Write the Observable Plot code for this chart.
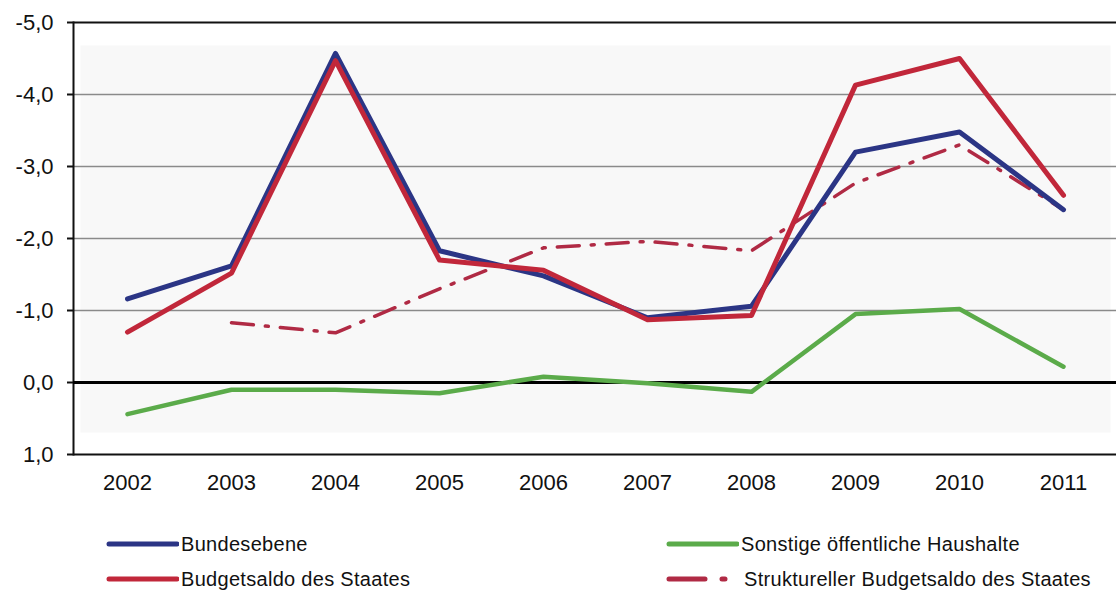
<!DOCTYPE html>
<html>
<head>
<meta charset="utf-8">
<script src="https://cdn.jsdelivr.net/npm/d3@7"></script>
<script src="https://cdn.jsdelivr.net/npm/@observablehq/plot@0.6"></script>
<style>
  html, body { margin: 0; padding: 0; background: #fff; }
  body { width: 1116px; height: 592px; overflow: hidden; font-family: "Liberation Sans", Arial, sans-serif; }
  #legend { display: grid; grid-template-columns: 560px 448px; margin-left: 106px; row-gap: 11px; margin-top: 28px; font-size: 20px; letter-spacing: 0.3px; color: #111; }
  .item { display: flex; align-items: center; height: 24px; white-space: nowrap; }
  .item svg { margin-right: 2px; flex: none; }
</style>
</head>
<body>
<div id="chart"></div>
<div id="legend"></div>
<script>
const years = [2002, 2003, 2004, 2005, 2006, 2007, 2008, 2009, 2010, 2011];
const bundesebene = [-1.16, -1.62, -4.57, -1.83, -1.48, -0.9, -1.06, -3.2, -3.48, -2.4];
const budgetsaldo = [-0.7, -1.52, -4.47, -1.7, -1.56, -0.87, -0.93, -4.13, -4.5, -2.6];
const strukturell = [null, -0.83, -0.69, -1.3, -1.87, -1.96, -1.83, -2.77, -3.3, -2.4];
const sonstige = [0.44, 0.1, 0.1, 0.15, -0.08, 0.01, 0.13, -0.95, -1.02, -0.22];
const yTicks = [-5, -4, -3, -2, -1, 0, 1];
const gridTicks = [-4, -3, -2, -1];

const seriesNames = ["Bundesebene", "Budgetsaldo des Staates", "Sonstige öffentliche Haushalte", "Struktureller Budgetsaldo des Staates"];
const colors = { blue: "#2b3585", red: "#c1273a", green: "#5bab4a", dashred: "#b02a44" };

const rows = (vals) => years.map((y, i) => ({ year: y, value: vals[i] })).filter(d => d.value !== null);
const fmt = d => d.toFixed(1).replace(".", ",");

const chart = Plot.plot({
  width: 1116,
  height: 504,
  marginLeft: 73,
  marginRight: 0,
  marginTop: 22,
  marginBottom: 50,
  style: { fontFamily: "'Liberation Sans', Arial, sans-serif", fontSize: "22px", color: "#111", background: "transparent" },
  x: { type: "point", domain: years, padding: 0.5 },
  y: { domain: [-5, 1], reverse: true },
  marks: [
    Plot.frame({ fill: "#f8f8f8", stroke: null, insetLeft: 7, insetRight: 6, insetTop: 23, insetBottom: 22 }),
    Plot.ruleY(gridTicks, { stroke: "#8a8a8a", strokeWidth: 1.3 }),
    Plot.ruleY([-5, 1], { stroke: "#111", strokeWidth: 2 }),
    Plot.frame({ anchor: "left", stroke: "#111", strokeWidth: 2 }),
    Plot.axisY({ ticks: yTicks, tickFormat: fmt, tickSize: 6, tickPadding: 14, strokeWidth: 2, fontSize: 22, label: null }),
    Plot.axisX({ tickFormat: d => String(d), tickSize: 0, tickPadding: 20, fontSize: 22, label: null }),
    Plot.ruleY([0], { stroke: "#000", strokeWidth: 3 }),
    Plot.line(rows(sonstige), { x: "year", y: "value", stroke: colors.green, strokeWidth: 4.5 }),
    Plot.line(rows(strukturell), { x: "year", y: "value", stroke: colors.dashred, strokeWidth: 3.5, strokeDasharray: "22,12,3,12" }),
    Plot.line(rows(bundesebene), { x: "year", y: "value", stroke: colors.blue, strokeWidth: 5 }),
    Plot.line(rows(budgetsaldo), { x: "year", y: "value", stroke: colors.red, strokeWidth: 5 })
  ]
});
document.getElementById("chart").appendChild(chart);

const legendItems = [
  { name: seriesNames[0], color: colors.blue, dash: null },
  { name: seriesNames[2], color: colors.green, dash: null },
  { name: seriesNames[1], color: colors.red, dash: null },
  { name: seriesNames[3], color: colors.dashred, dash: "36,17,3,40" }
];
const legend = d3.select("#legend");
for (const it of legendItems) {
  const div = legend.append("div").attr("class", "item");
  const w = it.dash ? 76 : 73;
  const svg = div.append("svg").attr("width", w).attr("height", 10);
  svg.append("line").attr("x1", 3).attr("x2", it.dash ? 62 : 71).attr("y1", 5).attr("y2", 5)
    .attr("stroke", it.color).attr("stroke-width", 5).attr("stroke-linecap", "round")
    .attr("stroke-dasharray", it.dash);
  div.append("span").text(it.name);
}
</script>
</body>
</html>
